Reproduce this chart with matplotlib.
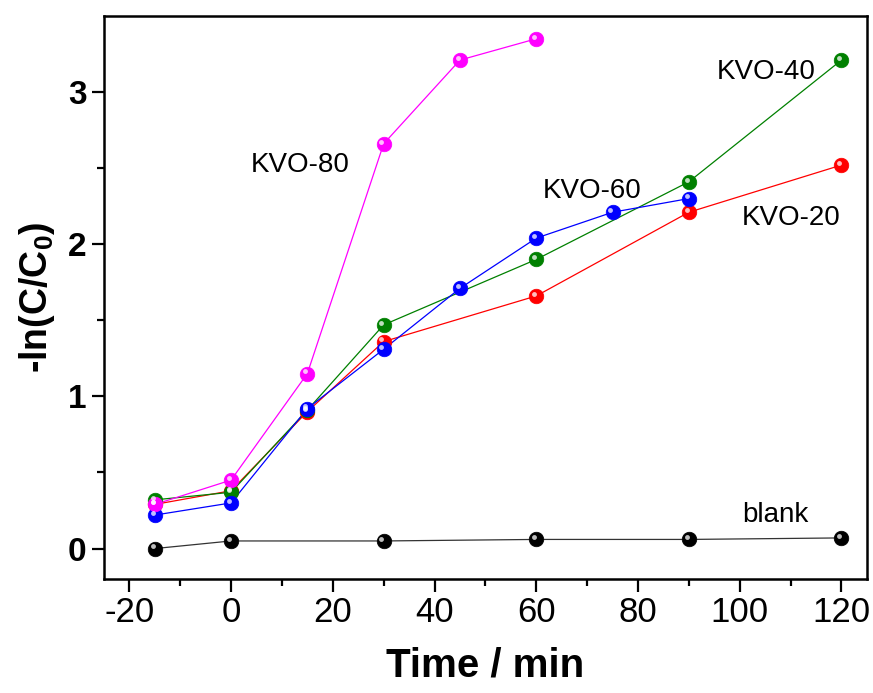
import matplotlib
matplotlib.use("Agg")
import matplotlib.pyplot as plt
import matplotlib.transforms as mtransforms

plt.rcParams['font.family'] = ['Liberation Sans', 'DejaVu Sans']
plt.rcParams['axes.unicode_minus'] = False
plt.rcParams['mathtext.fontset'] = 'custom'
plt.rcParams['mathtext.rm'] = 'Liberation Sans'
plt.rcParams['mathtext.bf'] = 'Liberation Sans:bold'

# Data
time_blank = [-15, 0, 30, 60, 90, 120]
blank = [0.0, 0.05, 0.05, 0.06, 0.06, 0.07]

time_20 = [-15, 0, 15, 30, 60, 90, 120]
kvo20 = [0.29, 0.38, 0.90, 1.36, 1.66, 2.21, 2.52]

time_40 = [-15, 0, 15, 30, 60, 90, 120]
kvo40 = [0.32, 0.37, 0.91, 1.47, 1.90, 2.41, 3.21]

time_60 = [-15, 0, 15, 30, 45, 60, 75, 90]
kvo60 = [0.22, 0.30, 0.92, 1.31, 1.71, 2.04, 2.21, 2.30]

time_80 = [-15, 0, 15, 30, 45, 60]
kvo80 = [0.29, 0.45, 1.15, 2.66, 3.21, 3.35]

series = [
    (time_blank, blank, 'black', '#333333'),
    (time_20, kvo20, '#ff0000', '#ff0000'),
    (time_40, kvo40, '#008000', '#008000'),
    (time_60, kvo60, '#0000ff', '#0000ff'),
    (time_80, kvo80, '#ff00ff', '#ff00ff'),
]

fig = plt.figure(figsize=(8.73, 6.93), dpi=100)
ax = fig.add_axes([0.119, 0.1645, 0.874, 0.8125])

for t, v, mc, lc in series:
    ax.plot(t, v, color=lc, lw=0.9, zorder=2)
    ax.plot(t, v, ls='none', marker='o', ms=10.5, mfc=mc, mec=mc, mew=0.5, zorder=3)
    tr = mtransforms.offset_copy(ax.transData, fig=fig, x=-1.6, y=1.6, units='points')
    ax.plot(t, v, ls='none', marker='o', ms=3.5, mfc='white', mec='none', alpha=0.75,
            transform=tr, zorder=4)

ax.set_xlim(-25, 125)
ax.set_ylim(-0.2, 3.5)
ax.set_xticks([-20, 0, 20, 40, 60, 80, 100, 120])
ax.set_xticks(range(-10, 121, 20), minor=True)
ax.set_yticks([0, 1, 2, 3])
ax.set_yticks([0.5, 1.5, 2.5], minor=True)

for s in ax.spines.values():
    s.set_linewidth(1.8)

ax.tick_params(which='major', direction='out', length=9, width=1.6, labelsize=25)
ax.tick_params(axis='y', which='major', labelsize=24)
ax.tick_params(which='minor', direction='out', length=5, width=1.6)
for lab in ax.get_yticklabels():
    lab.set_fontweight('bold')

ax.set_xlabel('Time / min', fontsize=29, fontweight='bold', labelpad=12)
ax.set_ylabel('-ln(C/C$_\\mathbf{0}$)', fontsize=27, fontweight='bold', labelpad=8)

txt = dict(fontsize=20, ha='center', va='center')
ax.text(13.6, 2.52, 'KVO-80', **txt)
ax.text(105.3, 3.13, 'KVO-40', **txt)
ax.text(70.9, 2.35, 'KVO-60', **txt)
ax.text(110.2, 2.17, 'KVO-20', **txt)
ax.text(107, 0.22, 'blank', **txt)

fig.savefig('out.png', dpi=100)
